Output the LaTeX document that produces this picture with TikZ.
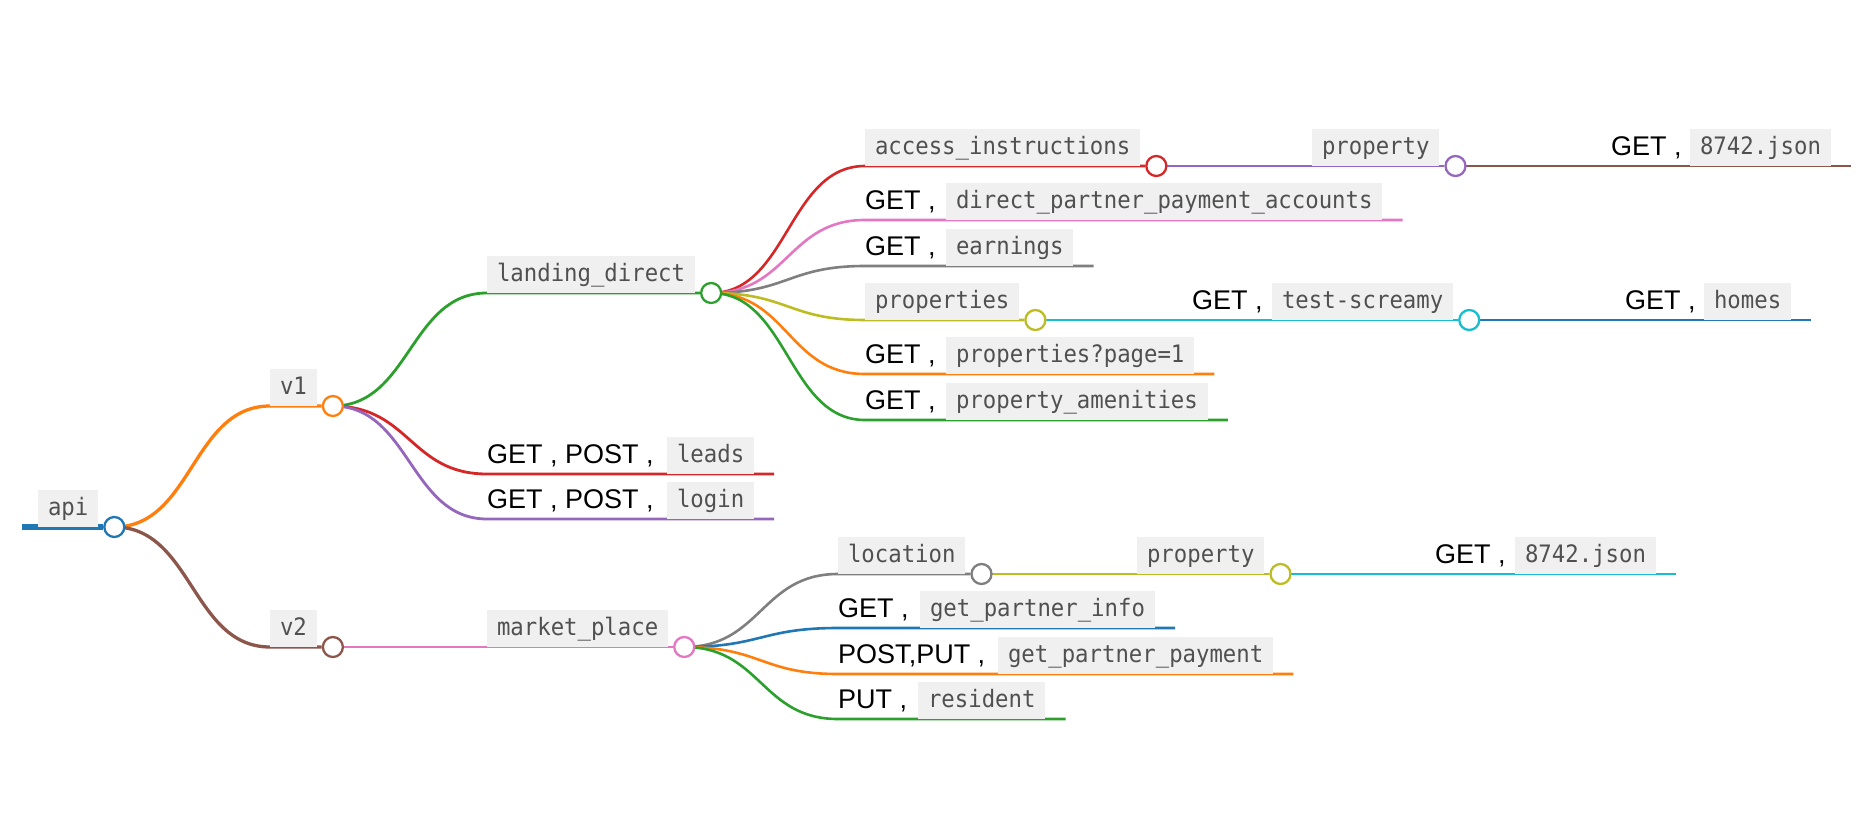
\documentclass[tikz,border=0pt]{standalone}
\usepackage{fontspec}
\newfontfamily\codefont[FakeStretch=0.93]{DejaVu Sans Mono}
\newfontfamily\verbfont{Liberation Sans}
\usetikzlibrary{calc,backgrounds}
\definecolor{mmblue}{HTML}{1F77B4}\definecolor{mmorange}{HTML}{FF7F0E}\definecolor{mmgreen}{HTML}{2CA02C}
\definecolor{mmred}{HTML}{D62728}\definecolor{mmpurple}{HTML}{9467BD}\definecolor{mmbrown}{HTML}{8C564B}
\definecolor{mmpink}{HTML}{E377C2}\definecolor{mmgray}{HTML}{7F7F7F}\definecolor{mmolive}{HTML}{BCBD22}
\definecolor{mmcyan}{HTML}{17BECF}\definecolor{codebg}{HTML}{F0F0F0}\definecolor{codefg}{HTML}{505050}
\tikzset{
  codebox/.style={anchor=south west,fill=codebg,text=codefg,font=\codefont\fontsize{24}{28}\selectfont,inner xsep=9.8pt,inner ysep=0pt,text height=26pt,text depth=11pt},
  verbs/.style={anchor=base west,yshift=11pt,inner sep=0pt,font=\verbfont\fontsize{27}{30}\selectfont},
  knob/.style={circle,draw=#1,fill=white,line width=2.3pt,minimum size=20pt,inner sep=0pt},
  branch/.style={to path={let \p1=(\tikztostart),\p2=(\tikztotarget) in (\p1) .. controls ({(\x1+\x2)/2},\y1) and ({(\x1+\x2)/2},\y2) .. (\p2)}},
  lw0/.style={line width=6.5pt},lw1/.style={line width=3.3pt},lw2/.style={line width=2.8pt},
  lw3/.style={line width=2.6pt},lw4/.style={line width=2.5pt},lw5/.style={line width=2.5pt}
}
\begin{document}
\begin{tikzpicture}[x=1pt,y=-1pt]
  \path[use as bounding box] (0,0) rectangle (1876,824);
  \coordinate (api) at (22,527); \coordinate (v1) at (270,406); \coordinate (v2) at (270,647);
  \coordinate (ld) at (487,293); \coordinate (leads) at (487,474); \coordinate (login) at (487,519); \coordinate (mp) at (487,647);
  \coordinate (ai) at (865,166); \coordinate (dp) at (865,220); \coordinate (ea) at (865,266); \coordinate (ps) at (865,320); \coordinate (pg) at (865,374); \coordinate (am) at (865,420);
  \coordinate (pa) at (1312,166); \coordinate (ja) at (1611,166); \coordinate (ts) at (1192,320); \coordinate (ho) at (1625,320);
  \coordinate (lo) at (838,574); \coordinate (pb) at (1137,574); \coordinate (jb) at (1435,574); \coordinate (gi) at (838,628); \coordinate (gp) at (838,674); \coordinate (re) at (838,719);
  \node[codebox] (apib) at (38,527) {api}; \node[codebox] (v1b) at (v1) {v1}; \node[codebox] (v2b) at (v2) {v2};
  \node[codebox] (ldb) at (ld) {landing\_direct}; \node[codebox] (mpb) at (mp) {market\_place};
  \node[verbs] (leadsv) at (leads) {GET , POST ,}; \node[codebox] (leadsb) at (667,474) {leads};
  \node[verbs] (loginv) at (login) {GET , POST ,}; \node[codebox] (loginb) at (667,519) {login};
  \node[codebox] (aib) at (ai) {access\_instructions}; \node[codebox] (pab) at (pa) {property};
  \node[verbs] (jav) at (ja) {GET ,}; \node[codebox] (jab) at (1690,166) {8742.json};
  \node[verbs] (dpv) at (dp) {GET ,}; \node[codebox] (dpb) at (946,220) {direct\_partner\_payment\_accounts};
  \node[verbs] (eav) at (ea) {GET ,}; \node[codebox] (eab) at (946,266) {earnings};
  \node[codebox] (psb) at (ps) {properties};
  \node[verbs] (tsv) at (ts) {GET ,}; \node[codebox] (tsb) at (1272,320) {test-screamy};
  \node[verbs] (hov) at (ho) {GET ,}; \node[codebox] (hob) at (1704,320) {homes};
  \node[verbs] (pgv) at (pg) {GET ,}; \node[codebox] (pgb) at (946,374) {properties?page=1};
  \node[verbs] (amv) at (am) {GET ,}; \node[codebox] (amb) at (946,420) {property\_amenities};
  \node[codebox] (lob) at (lo) {location}; \node[codebox] (pbb) at (pb) {property};
  \node[verbs] (jbv) at (jb) {GET ,}; \node[codebox] (jbb) at (1515,574) {8742.json};
  \node[verbs] (giv) at (gi) {GET ,}; \node[codebox] (gib) at (920,628) {get\_partner\_info};
  \node[verbs] (gpv) at (gp) {POST,PUT ,}; \node[codebox] (gpb) at (998,674) {get\_partner\_payment};
  \node[verbs] (rev) at (re) {PUT ,}; \node[codebox] (reb) at (918,719) {resident};
  \node[knob=mmblue] (apik) at ([xshift=16pt]apib.south east) {}; \node[knob=mmorange] (v1k) at ([xshift=16pt]v1b.south east) {}; \node[knob=mmbrown] (v2k) at ([xshift=16pt]v2b.south east) {};
  \node[knob=mmgreen] (ldk) at ([xshift=16pt]ldb.south east) {}; \node[knob=mmpink] (mpk) at ([xshift=16pt]mpb.south east) {};
  \node[knob=mmred] (aik) at ([xshift=16pt]aib.south east) {}; \node[knob=mmpurple] (pak) at ([xshift=16pt]pab.south east) {};
  \node[knob=mmolive] (psk) at ([xshift=16pt]psb.south east) {}; \node[knob=mmcyan] (tsk) at ([xshift=16pt]tsb.south east) {};
  \node[knob=mmgray] (lok) at ([xshift=16pt]lob.south east) {}; \node[knob=mmolive] (pbk) at ([xshift=16pt]pbb.south east) {};
  \begin{scope}[on background layer]
    \fill[white] (0,0) rectangle (1876,824);
    \draw[mmblue,lw0] (api) -- (apik);
    \draw[mmorange,lw1] (apik) to[branch] (v1) -- (v1k); \draw[mmbrown,lw1] (apik) to[branch] (v2) -- (v2k);
    \draw[mmgreen,lw2] (v1k) to[branch] (ld) -- (ldk); \draw[mmred,lw2] (v1k) to[branch] (leads) -- ([xshift=20pt]leadsb.south east); \draw[mmpurple,lw2] (v1k) to[branch] (login) -- ([xshift=20pt]loginb.south east);
    \draw[mmpink,lw2] (v2k) to[branch] (mp) -- (mpk);
    \draw[mmred,lw3] (ldk) to[branch] (ai) -- (aik); \draw[mmpink,lw3] (ldk) to[branch] (dp) -- ([xshift=20pt]dpb.south east); \draw[mmgray,lw3] (ldk) to[branch] (ea) -- ([xshift=20pt]eab.south east);
    \draw[mmolive,lw3] (ldk) to[branch] (ps) -- (psk); \draw[mmorange,lw3] (ldk) to[branch] (pg) -- ([xshift=20pt]pgb.south east); \draw[mmgreen,lw3] (ldk) to[branch] (am) -- ([xshift=20pt]amb.south east);
    \draw[mmpurple,lw4] (aik) to[branch] (pa) -- (pak); \draw[mmbrown,lw5] (pak) to[branch] (ja) -- ([xshift=20pt]jab.south east);
    \draw[mmcyan,lw4] (psk) to[branch] (ts) -- (tsk); \draw[mmblue,lw5] (tsk) to[branch] (ho) -- ([xshift=20pt]hob.south east);
    \draw[mmgray,lw3] (mpk) to[branch] (lo) -- (lok); \draw[mmolive,lw4] (lok) to[branch] (pb) -- (pbk); \draw[mmcyan,lw5] (pbk) to[branch] (jb) -- ([xshift=20pt]jbb.south east);
    \draw[mmblue,lw3] (mpk) to[branch] (gi) -- ([xshift=20pt]gib.south east); \draw[mmorange,lw3] (mpk) to[branch] (gp) -- ([xshift=20pt]gpb.south east); \draw[mmgreen,lw3] (mpk) to[branch] (re) -- ([xshift=20pt]reb.south east);
  \end{scope}
\end{tikzpicture}
\end{document}
